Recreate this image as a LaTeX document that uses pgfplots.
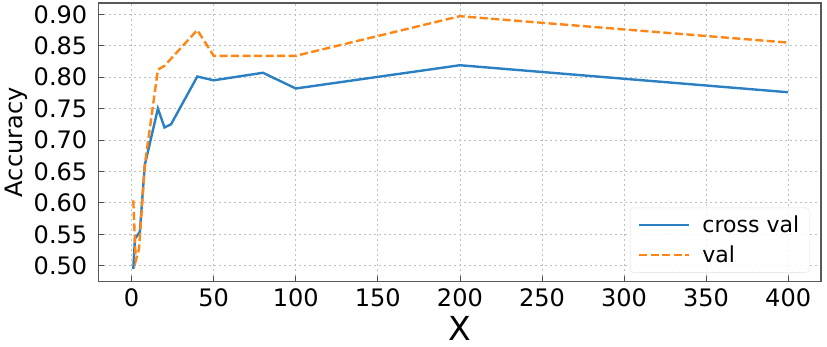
\documentclass[border=0pt]{standalone}
\usepackage{pgfplots}
\pgfplotsset{compat=1.18}
\usepackage{fontspec}
\setmainfont{DejaVu Sans}
\definecolor{tabblue}{HTML}{2A80C2}
\definecolor{taborange}{HTML}{FF8515}
\begin{document}
\begin{tikzpicture}
\begin{axis}[
  name=ax,
  scale only axis,
  width=721pt, height=278pt,
  xmin=-20, xmax=420, ymin=0.475, ymax=0.918,
  xtick={0,50,...,400},
  ytick={0.50,0.55,...,0.90},
  yticklabel style={xshift=-8pt, /pgf/number format/.cd,fixed,fixed zerofill,precision=2},
  xticklabel style={yshift=-4pt},
  /pgf/number format/assume math mode=true,
  ticklabel style={font=\fontsize{24}{26}\selectfont},
  tick align=inside,
  xtick pos=bottom, ytick pos=left,
  major tick length=5pt,
  tick style={line width=0.8pt, color=black!70},
  axis line style={line width=1.3pt, color=black!65},
  grid=major,
  major grid style={line width=0.8pt, color=black!25, dash pattern=on 2pt off 3pt},
  xlabel={X},
  ylabel={Accuracy},
  xlabel style={font=\fontsize{33}{36}\selectfont, yshift=-2pt},
  ylabel style={font=\fontsize{24}{26}\selectfont, yshift=-1pt},
  legend style={at={(0.984,0.032)}, anchor=south east, font=\fontsize{22}{26}\selectfont,
    draw=black!12, rounded corners=3pt, fill=white, fill opacity=0.85, text opacity=1,
    inner xsep=8pt, inner ysep=6pt, row sep=8pt},
  legend cell align=left,
  legend image code/.code={\draw[#1,line width=1.8pt] (0pt,0pt) -- (50pt,0pt); \path (60pt,0pt);},
]
\addplot[color=tabblue, line width=2.4pt] coordinates {
(1,0.495) (2,0.543) (5,0.554) (8,0.660) (16,0.750) (20,0.720) (24,0.725)
(40,0.801) (50,0.795) (80,0.807) (100,0.782) (200,0.819) (400,0.776)
};
\addlegendentry{cross val}
\addplot[color=taborange, line width=2.4pt, dash pattern=on 8pt off 3.5pt] coordinates {
(1,0.604) (2.5,0.508) (4.5,0.527) (8,0.660) (16,0.812) (20,0.818) (40,0.875)
(50,0.834) (100,0.834) (200,0.897) (400,0.855)
};
\addlegendentry{val}
\end{axis}
\path ([xshift=6pt,yshift=3pt]ax.north east) ([xshift=-2pt]current bounding box.west) ([yshift=-3pt]current bounding box.south);
\end{tikzpicture}
\end{document}
